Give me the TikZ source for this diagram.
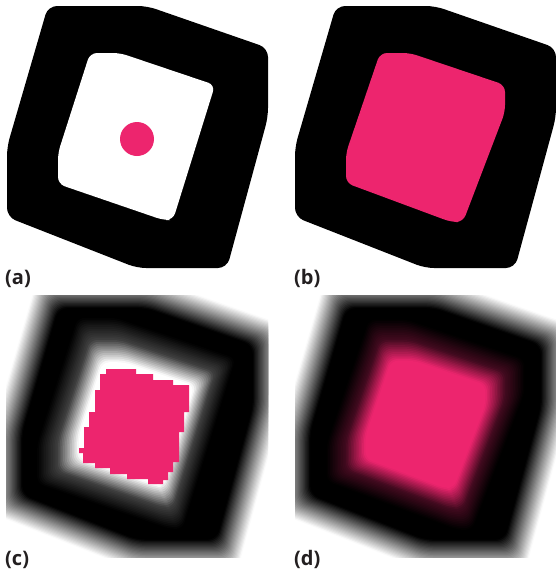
\documentclass[tikz,border=0pt]{standalone}
\usepackage{fontspec}
\setmainfont{Open Sans}
\definecolor{mypink}{RGB}{237,37,110}
\definecolor{lblgray}{RGB}{35,31,32}
\tikzset{
  outerpoly/.style={rounded corners=9pt, insert path={(48,6) -- (147,6) -- (268,48) -- (268,117) -- (227,268) -- (137,268) -- (7,217) -- (7,147) -- cycle}},
  innerpoly/.style={rounded corners=7pt, insert path={(90,53) -- (120,53) -- (215,85) -- (173,220) -- (163,220) -- (58,184) -- (58,153) -- cycle}},
  pinkpoly/.style={rounded corners=7pt, insert path={(92,53) -- (122,53) -- (217,85) -- (217,112) -- (175,222) -- (163,222) -- (58,183) -- (58,153) -- cycle}},
  cpinkpoly/.style={insert path={(106,369) -- (136,369) -- (136,374) -- (153,374) -- (153,380) -- (173,380) -- (173,385) -- (189,385) -- (189,412) -- (184,412) -- (184,432) -- (179,432) -- (179,462) -- (173,462) -- (173,472) -- (168,472) -- (168,480) -- (163,480) -- (163,484) -- (148,484) -- (148,479) -- (127,479) -- (127,474) -- (110,474) -- (110,468) -- (95,468) -- (95,463) -- (83,463) -- (83,453) -- (79,453) -- (79,448) -- (84,448) -- (84,427) -- (89,427) -- (89,412) -- (95,412) -- (95,390) -- (100,390) -- (100,374) -- (106,374) -- cycle}},
  lbl/.style={anchor=base west, inner sep=0pt, font=\fontsize{20}{20}\selectfont\bfseries, text=lblgray},
}
% blurred edge by nested scaled copies of a polygon
% #1 polygon style, #2 inside colour, #3 outside colour, #4 inside fraction at the edge,
% #5 half width of the blur, #6 size of the polygon, #7,#8 centre
\newcommand\blurfill[8]{%
  \foreach \k in {12,11,...,1}{%
    \pgfmathsetmacro\pf{#4*(1-(\k-0.5)/12)}%
    \pgfmathsetmacro\sc{1+2*#5*\k/12/#6}%
    \fill[#2!\pf!#3, shift={(#7,#8)}, scale=\sc, shift={(-#7,-#8)}, #1];
  }%
  \foreach \k in {0,1,...,11}{%
    \pgfmathsetmacro\pf{#4+(100-#4)*(\k+0.5)/12}%
    \pgfmathsetmacro\sc{1-2*#5*\k/12/#6}%
    \fill[#2!\pf!#3, shift={(#7,#8)}, scale=\sc, shift={(-#7,-#8)}, #1];
  }%
  \pgfmathsetmacro\sc{1-2*#5/#6}%
  \fill[#2, shift={(#7,#8)}, scale=\sc, shift={(-#7,-#8)}, #1];
}
\begin{document}
\begin{tikzpicture}[x=1pt,y=-1pt]
\useasboundingbox[fill=white] (0,0) rectangle (556,571);
% (a)
\fill[outerpoly, fill=black];
\fill[innerpoly, fill=white];
\fill[mypink] (137,139) circle (17);
\node[lbl] (la) at (5,284) {(a)};
% (b)
\begin{scope}
  \clip (0,0) rectangle (556,571);
  \begin{scope}[shift={(288,0)}]
    \fill[outerpoly, fill=black];
    \fill[pinkpoly, fill=mypink];
  \end{scope}
\end{scope}
\node[lbl] (lb) at (294,284) {(b)};
% (c)
\begin{scope}
  \clip (6,295) rectangle (268,557);
  \begin{scope}[shift={(0,287)}]
    \blurfill{outerpoly}{black}{white}{50}{14}{240}{138}{136}
    \blurfill{innerpoly}{white}{black}{25}{18}{136}{137}{137}
  \end{scope}
  \fill[cpinkpoly, fill=mypink];
\end{scope}
\node[lbl] (lc) at (5,565) {(c)};
% (d)
\begin{scope}
  \clip (295,295) rectangle (556,557);
  \begin{scope}[shift={(288,287)}]
    \blurfill{outerpoly}{black}{white}{50}{14}{240}{138}{136}
    \blurfill{pinkpoly}{mypink}{black}{28}{17}{138}{137}{137}
  \end{scope}
\end{scope}
\node[lbl] (ld) at (294,565) {(d)};
\end{tikzpicture}
\end{document}
